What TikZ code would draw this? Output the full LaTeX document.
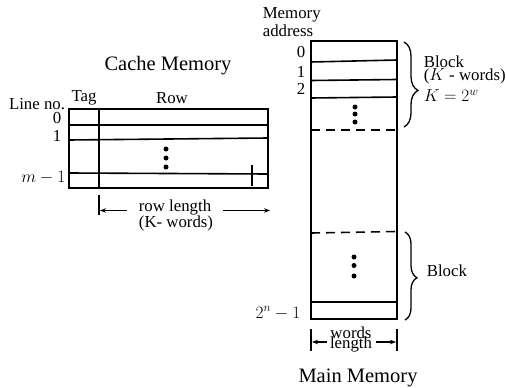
\documentclass[tikz,border=0pt]{standalone}
\usepackage{fontspec}
\setmainfont{Liberation Serif}
\usetikzlibrary{arrows.meta,decorations.pathreplacing}
\begin{document}
\begin{tikzpicture}[x=1pt,y=-1pt, line width=1.6pt,
 lbl/.style={font=\fontsize{16.8}{16.8}\selectfont, inner sep=0pt},
 ttl/.style={font=\fontsize{20.5}{20.5}\selectfont, inner sep=0pt},
 dotmark/.style={circle, fill, inner sep=0pt, minimum size=5pt},
 arr/.style={-{Stealth[length=6pt,width=4.5pt]}, line width=1.3pt},
 brc/.style={decorate, line width=1.3pt},
 dsh/.style={dash pattern=on 9pt off 6pt}]
\useasboundingbox (0,0) rectangle (506,388);

% ---------- Cache memory ----------
\coordinate (cnw) at (69,109);
\coordinate (cse) at (268,188);
\draw (cnw) rectangle (cse);
\draw (69,125) coordinate (r1l) -- (268,125) coordinate (r1r);
\draw (69,140) coordinate (r2l) -- (268,138) coordinate (r2r);
\draw (69,173) coordinate (r3l) -- (268,174) coordinate (r3r);
\draw (99,109) coordinate (tagt) -- (99,188) coordinate (tagb);
\draw (252,165) coordinate (tkt) -- (252,186) coordinate (tkb);
\node[dotmark] (cd1) at (166,149) {};
\node[dotmark] (cd2) at (166,158) {};
\node[dotmark] (cd3) at (166,167) {};

\node[ttl, anchor=base] (cachettl) at (168,70) {Cache Memory};
\node[lbl, anchor=base] (tag) at (84,101) {Tag};
\node[lbl, anchor=base] (row) at (172,103) {Row};
\node[lbl, anchor=base] (lineno) at (37,109) {Line no.};
\node[lbl, anchor=base] (l0) at (57,123) {0};
\node[lbl, anchor=base] (l1) at (57,141) {1};
\node[lbl, anchor=base east] (lm) at (66,182) {$m-1$};

% row length arrow
\draw (99,195) coordinate (rlt) -- (99,215) coordinate (rlb);
\coordinate (rla0) at (127,210.5);
\coordinate (rla1) at (100,210.5);
\coordinate (rlb0) at (223,210.5);
\coordinate (rlb1) at (270,210.5);
\draw[arr] (rla0) -- (rla1);
\draw[arr] (rlb0) -- (rlb1);
\node[lbl, anchor=base] (rowlen) at (175,211) {row length};
\node[lbl, anchor=base] (kwords) at (176,227) {(K- words)};

% ---------- Main memory ----------
\coordinate (mnw) at (311,41);
\coordinate (mse) at (397,319);
\draw (mnw) rectangle (mse);
\draw (311,62) -- (397,60);
\draw (311,80.5) -- (397,79.5);
\draw (311,98) -- (397,97);
\draw[dsh] (311,130) -- (397,130);
\draw[dsh] (311,233) -- (397,231.5);
\draw (311,302) -- (397,302);
\node[dotmark] (md1) at (355,107) {};
\node[dotmark] (md2) at (355,114) {};
\node[dotmark] (md3) at (355,122) {};
\node[dotmark] (md4) at (354,257) {};
\node[dotmark] (md5) at (354,265.5) {};
\node[dotmark] (md6) at (354,276) {};

\node[lbl, anchor=base west] (mem1) at (262,18.5) {Memory};
\node[lbl, anchor=base west] (mem2) at (262,36.5) {address};
\node[lbl, anchor=base] (a0) at (301,57) {0};
\node[lbl, anchor=base] (a1) at (301,77) {1};
\node[lbl, anchor=base] (a2) at (301,94) {2};
\node[lbl, anchor=base east] (an) at (301,318) {$2^n-1$};

% braces
\draw[brc, decoration={brace, amplitude=14pt, aspect=0.57}] (404,42) coordinate (b1t) -- (404,127) coordinate (b1b);
\node[lbl, anchor=base west] (blk1) at (423,67) {Block};
\node[lbl, anchor=base west] (blk1b) at (423,80.5) {($K$ - words)};
\node[lbl, anchor=base west] (blk1c) at (423,101.5) {$K=2^w$};

\draw[brc, decoration={brace, amplitude=12pt, aspect=0.52}] (405,232) coordinate (b2t) -- (405,320) coordinate (b2b);
\node[lbl, anchor=base west] (blk2) at (426,276) {Block};

% words length arrow
\draw (311,329) coordinate (wlt) -- (311,351) coordinate (wlb);
\draw (397,329) coordinate (wrt) -- (397,351) coordinate (wrb);
\coordinate (wa0) at (327,342);
\coordinate (wa1) at (312,342);
\coordinate (wb0) at (376,342);
\coordinate (wb1) at (396,342);
\draw[arr] (wa0) -- (wa1);
\draw[arr] (wb0) -- (wb1);
\node[lbl, anchor=base] (words) at (351,338) {words};
\node[lbl, anchor=base] (length) at (351,348.5) {length};

\node[ttl, anchor=base] (mainttl) at (358,382) {Main Memory};
\end{tikzpicture}
\end{document}
